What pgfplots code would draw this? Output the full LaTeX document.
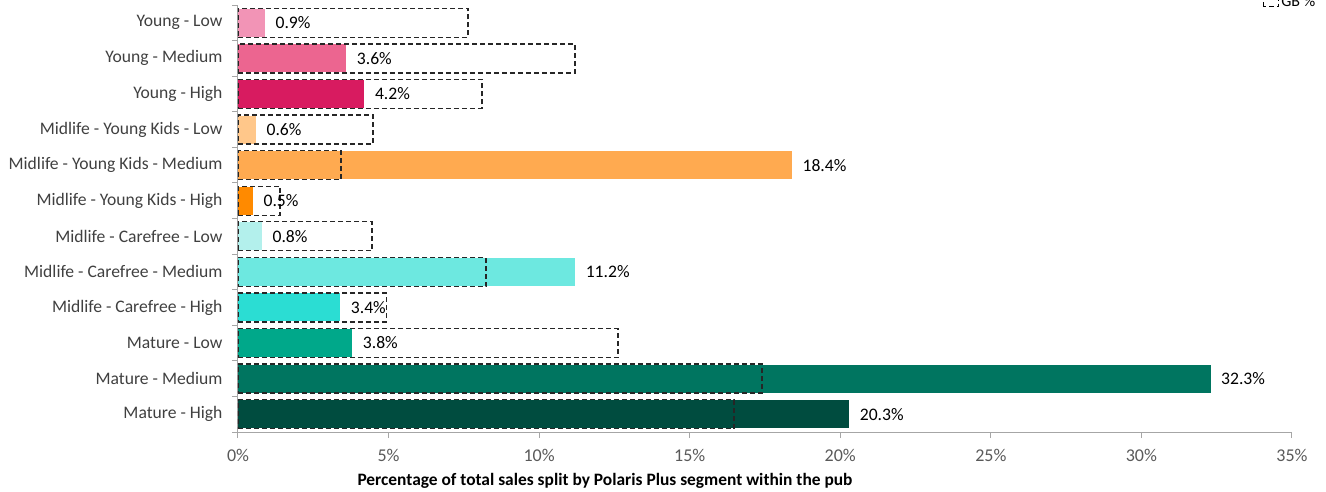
\documentclass[border=0pt]{standalone}
\usepackage{pgfplots}
\pgfplotsset{compat=1.18}
\usepackage{fontspec}
\setmainfont{Carlito}

\definecolor{ylow}{HTML}{F294B6}
\definecolor{ymed}{HTML}{EC6590}
\definecolor{yhigh}{HTML}{D81B60}
\definecolor{mkylow}{HTML}{FFC78A}
\definecolor{mkymed}{HTML}{FFAA50}
\definecolor{mkyhigh}{HTML}{FF8A00}
\definecolor{mcflow}{HTML}{B3F0EC}
\definecolor{mcfmed}{HTML}{6DE8E0}
\definecolor{mcfhigh}{HTML}{2BDDD3}
\definecolor{matlow}{HTML}{00A88A}
\definecolor{matmed}{HTML}{007560}
\definecolor{mathigh}{HTML}{004C3F}
\definecolor{axisgray}{HTML}{A6A6A6}
\definecolor{ticktext}{HTML}{595959}
\definecolor{cattext}{HTML}{404040}

\begin{document}
\begin{tikzpicture}
\useasboundingbox (-238pt,-59pt) rectangle (1088pt,432pt);
\begin{axis}[
    at={(0pt,0pt)}, anchor=south west,
    width=1054pt, height=427pt, scale only axis,
    xmin=0, xmax=35, ymin=-0.5, ymax=11.5, y dir=reverse,
    enlargelimits=false,
    xbar, bar width=28pt, bar shift=0pt,
    axis x line*=bottom, axis y line*=left,
    axis line style={draw=axisgray, line width=1pt, -},
    xtick={0,5,...,35},
    xticklabel={\pgfmathprintnumber[assume math mode=true]{\tick}\%},
    ytick={0,...,11},
    yticklabels={Young - Low, Young - Medium, Young - High,
      Midlife - Young Kids - Low, Midlife - Young Kids - Medium,
      Midlife - Young Kids - High, Midlife - Carefree - Low,
      Midlife - Carefree - Medium, Midlife - Carefree - High,
      Mature - Low, Mature - Medium, Mature - High},
    minor ytick={-0.5,0.5,...,11.5},
    major y tick style={draw=none},
    minor y tick style={draw=axisgray, line width=1pt},
    minor tick length=6pt,
    x tick style={draw=axisgray, line width=1pt},
    major tick length=6pt,
    tick align=outside,
    xticklabel style={font=\fontsize{18}{21}\selectfont, text=ticktext, yshift=-8pt},
    yticklabel style={font=\fontsize{17.6}{20}\selectfont, text=cattext, xshift=-6pt},
    xlabel={\textbf{Percentage of total sales split by Polaris Plus segment within the pub}},
    xlabel style={font=\fontsize{17.4}{20}\selectfont, text=black, xshift=-160pt, yshift=-4pt},
    nodes near coords={\pgfmathprintnumber[fixed,precision=1,fixed zerofill,assume math mode=true]{\pgfplotspointmeta}\%},
    point meta=x,
    nodes near coords style={font=\fontsize{17.6}{20}\selectfont, text=black, anchor=west, xshift=7pt},
    legend style={at={(1.027,1.008)}, anchor=east, draw=none, fill=none,
      font=\fontsize{16}{19}\selectfont},
    legend image code/.code={\draw[dash pattern=on 5pt off 3pt, black, line width=1.3pt] (0pt,-5pt) rectangle (15pt,5pt);},
]
\addplot[fill=ylow, draw=none, forget plot] coordinates {(0.9,0)};
\addplot[fill=ymed, draw=none, forget plot] coordinates {(3.6,1)};
\addplot[fill=yhigh, draw=none, forget plot] coordinates {(4.2,2)};
\addplot[fill=mkylow, draw=none, forget plot] coordinates {(0.6,3)};
\addplot[fill=mkymed, draw=none, forget plot] coordinates {(18.4,4)};
\addplot[fill=mkyhigh, draw=none, forget plot] coordinates {(0.5,5)};
\addplot[fill=mcflow, draw=none, forget plot] coordinates {(0.8,6)};
\addplot[fill=mcfmed, draw=none, forget plot] coordinates {(11.2,7)};
\addplot[fill=mcfhigh, draw=none, forget plot] coordinates {(3.4,8)};
\addplot[fill=matlow, draw=none, forget plot] coordinates {(3.8,9)};
\addplot[fill=matmed, draw=none, forget plot] coordinates {(32.3,10)};
\addplot[fill=mathigh, draw=none, forget plot] coordinates {(20.3,11)};
% GB benchmark, dashed outline on top
\addplot[fill=none, draw=black!85, dash pattern=on 5pt off 3pt, line width=1.3pt, nodes near coords={}, bar width=29pt]
  coordinates {(7.64,0) (11.19,1) (8.10,2) (4.48,3) (3.42,4) (1.39,5)
               (4.45,6) (8.24,7) (4.92,8) (12.62,9) (17.40,10) (16.47,11)};
\addlegendentry{GB \%}
\end{axis}
\end{tikzpicture}
\end{document}
